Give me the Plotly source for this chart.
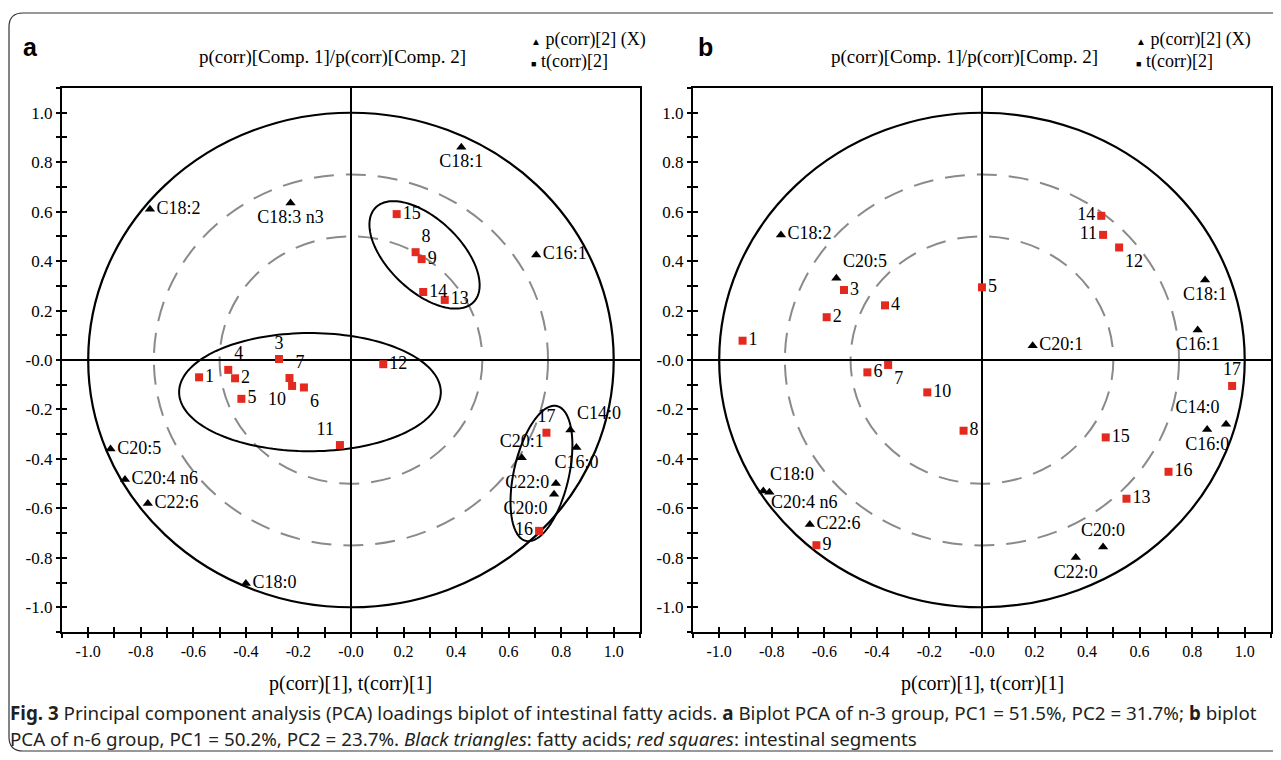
import numpy as np
import plotly.graph_objects as go

# The page body has an 8px margin, so the figure is 16px smaller than the window
OFF = 8
W, H = 1281 - 2 * OFF, 760 - 2 * OFF

# ---------------- data ----------------
tick_vals = [-1.0, -0.8, -0.6, -0.4, -0.2, 0.0, 0.2, 0.4, 0.6, 0.8, 1.0]
tick_text = ["-1.0", "-0.8", "-0.6", "-0.4", "-0.2", "-0.0", "0.2", "0.4", "0.6", "0.8", "1.0"]

# Panel a: fatty acids (black triangles)
a_fa_names = ["C18:1", "C18:2", "C18:3 n3", "C16:1", "C20:5", "C20:4 n6", "C22:6", "C18:0",
              "C14:0", "C16:0", "C20:1", "C22:0", "C20:0"]
a_fa_x = [0.42, -0.765, -0.23, 0.705, -0.915, -0.86, -0.773, -0.40, 0.835, 0.858, 0.65, 0.78, 0.773]
a_fa_y = [0.86, 0.61, 0.635, 0.425, -0.36, -0.483, -0.58, -0.904, -0.283, -0.354, -0.395, -0.499, -0.543]
a_fa_pos = ["bottom center", "middle right", "bottom center", "middle right", "middle right",
            "middle right", "middle right", "middle right", "top right", "bottom center",
            "top center", "middle left", "bottom left"]

# Panel a: intestinal segments (red squares)
a_seg_names = [str(i) for i in range(1, 18)]
a_seg_x = [-0.578, -0.441, -0.274, -0.467, -0.417, -0.179, -0.234, 0.246, 0.269, -0.224,
           -0.042, 0.123, 0.357, 0.275, 0.174, 0.716, 0.744]
a_seg_y = [-0.070, -0.074, 0.004, -0.040, -0.157, -0.111, -0.073, 0.436, 0.408, -0.105,
           -0.344, -0.017, 0.243, 0.275, 0.590, -0.691, -0.294]
a_seg_pos = ["middle right", "middle right", "top center", "top right", "middle right",
             "bottom right", "top right", "top right", "middle right", "bottom left",
             "top left", "middle right", "middle right", "middle right", "middle right",
             "middle left", "top center"]

# Panel b: fatty acids  ("custom" = label drawn as an annotation just below-right)
b_fa_names = ["C18:2", "C20:5", "C20:1", "C18:1", "C16:1", "C14:0", "C16:0", "C18:0",
              "C20:4 n6", "C22:6", "C20:0", "C22:0"]
b_fa_x = [-0.765, -0.554, 0.193, 0.849, 0.821, 0.929, 0.857, -0.832, -0.809, -0.655, 0.461, 0.357]
b_fa_y = [0.506, 0.331, 0.058, 0.324, 0.121, -0.260, -0.281, -0.530, -0.535, -0.665, -0.756, -0.799]
b_fa_pos = ["middle right", "top right", "middle right", "bottom center", "bottom center",
            "top left", "bottom center", "top right", "custom", "middle right",
            "top center", "bottom center"]

# Panel b: intestinal segments
b_seg_names = [str(i) for i in range(1, 18)]
b_seg_x = [-0.911, -0.591, -0.525, -0.369, 0.000, -0.436, -0.357, -0.070, -0.630, -0.208,
           0.461, 0.522, 0.550, 0.454, 0.471, 0.710, 0.952]
b_seg_y = [0.078, 0.173, 0.283, 0.221, 0.294, -0.050, -0.020, -0.286, -0.749, -0.131,
           0.506, 0.455, -0.561, 0.583, -0.313, -0.452, -0.105]
b_seg_pos = ["middle right", "middle right", "middle right", "middle right", "middle right",
             "middle right", "bottom right", "middle right", "middle right", "middle right",
             "middle left", "bottom right", "middle right", "middle left", "middle right",
             "middle right", "top center"]

# grouping ellipses in panel a: centre x, centre y, semi-axis a, semi-axis b, angle (deg)
a_ellipses = [
    (-0.156, -0.130, 0.498, 0.239, 0.0),
    (0.280, 0.425, 0.267, 0.141, -46.8),
    (0.725, -0.459, 0.279, 0.105, 78.1),
]
circle_radii_dashed = [0.5, 0.75]
circle_radius_solid = 1.0

# ---------------- layout helpers (reference pixel -> paper) ----------------
def px_x(p):
    return (p - OFF) / W

def px_y(p):
    return 1 - (p - OFF) / H

dom_a_x = [px_x(62), px_x(641)]
dom_b_x = [px_x(694), px_x(1273)]
dom_y = [px_y(632), px_y(88)]

SERIF = "Liberation Serif"
SANS = "Liberation Sans"
CAP = "Noto Sans"
RED = "#e42a1e"
LABEL_SIZE = 18

fig = go.Figure()

def add_panel(xref, yref, fa_x, fa_y, fa_names, fa_pos, seg_x, seg_y, seg_names, seg_pos):
    fa_text = ["" if p == "custom" else n for n, p in zip(fa_names, fa_pos)]
    fa_tpos = ["middle right" if p == "custom" else p for p in fa_pos]
    fig.add_trace(go.Scatter(
        x=fa_x, y=fa_y, mode="markers+text", text=fa_text, textposition=fa_tpos,
        marker=dict(symbol="triangle-up", size=9, color="black"),
        textfont=dict(family=SERIF, size=LABEL_SIZE, color="black"),
        xaxis=xref, yaxis=yref, showlegend=False, cliponaxis=False, hoverinfo="skip"))
    for n, p, x, y in zip(fa_names, fa_pos, fa_x, fa_y):
        if p == "custom":
            fig.add_annotation(x=x, y=y, xref=xref, yref=yref, text=n, showarrow=False,
                               xanchor="left", yanchor="middle", xshift=0, yshift=-10,
                               font=dict(family=SERIF, size=LABEL_SIZE, color="black"))
    fig.add_trace(go.Scatter(
        x=seg_x, y=seg_y, mode="markers+text", text=seg_names, textposition=seg_pos,
        marker=dict(symbol="square", size=8, color=RED),
        textfont=dict(family=SERIF, size=LABEL_SIZE, color="black"),
        xaxis=xref, yaxis=yref, showlegend=False, cliponaxis=False, hoverinfo="skip"))

add_panel("x", "y", a_fa_x, a_fa_y, a_fa_names, a_fa_pos, a_seg_x, a_seg_y, a_seg_names, a_seg_pos)
add_panel("x2", "y2", b_fa_x, b_fa_y, b_fa_names, b_fa_pos, b_seg_x, b_seg_y, b_seg_names, b_seg_pos)

def main_axis(size):
    return dict(
        range=[-1.1, 1.1], tickvals=tick_vals, ticktext=tick_text,
        ticks="outside", ticklen=4, tickwidth=2, tickcolor="black",
        minor=dict(dtick=0.1, tick0=0, ticks="outside", ticklen=4, tickwidth=2, tickcolor="black"),
        showgrid=False, zeroline=True, zerolinecolor="black", zerolinewidth=2,
        showline=True, linecolor="black", linewidth=2, mirror=True,
        tickfont=dict(family=SERIF, size=size, color="black"),
        fixedrange=True,
    )

def inner_ticks(overlay, anchor, side):
    return dict(overlaying=overlay, anchor=anchor, side=side, range=[-1.1, 1.1], tickvals=tick_vals,
                showticklabels=False, ticks="inside", ticklen=5, tickwidth=2, tickcolor="black",
                minor=dict(dtick=0.1, tick0=0, ticks="inside", ticklen=5, tickwidth=2, tickcolor="black"),
                showgrid=False, zeroline=False, showline=False, fixedrange=True)

fig.update_layout(
    width=W, height=H, autosize=False,
    margin=dict(l=0, r=0, t=0, b=0),
    paper_bgcolor="white", plot_bgcolor="white",
    xaxis=dict(domain=dom_a_x, anchor="y", **main_axis(16)),
    yaxis=dict(domain=dom_y, anchor="x", **main_axis(17)),
    xaxis2=dict(domain=dom_b_x, anchor="y2", **main_axis(16)),
    yaxis2=dict(domain=dom_y, anchor="x2", **main_axis(17)),
    xaxis3=inner_ticks("x", "y", "bottom"),
    yaxis3=inner_ticks("y", "x", "left"),
    xaxis4=inner_ticks("x2", "y2", "bottom"),
    yaxis4=inner_ticks("y2", "x2", "left"),
)
# invisible traces so the overlay (inner tick) axes are drawn
fig.add_trace(go.Scatter(x=[0], y=[0], xaxis="x3", yaxis="y3", mode="markers",
                         marker=dict(opacity=0), showlegend=False, hoverinfo="skip"))
fig.add_trace(go.Scatter(x=[0], y=[0], xaxis="x4", yaxis="y4", mode="markers",
                         marker=dict(opacity=0), showlegend=False, hoverinfo="skip"))

# circles
for xr, yr in [("x", "y"), ("x2", "y2")]:
    for r in circle_radii_dashed:
        fig.add_shape(type="circle", xref=xr, yref=yr, x0=-r, y0=-r, x1=r, y1=r,
                      line=dict(color="#8a8a8a", width=2, dash="20px,12px"), layer="below")
    r = circle_radius_solid
    fig.add_shape(type="circle", xref=xr, yref=yr, x0=-r, y0=-r, x1=r, y1=r,
                  line=dict(color="black", width=2.2), layer="below")

# ellipses (panel a)
def ellipse_path(cx, cy, a, b, ang, n=160):
    t = np.linspace(0, 2 * np.pi, n)
    th = np.deg2rad(ang)
    xs = cx + a * np.cos(t) * np.cos(th) - b * np.sin(t) * np.sin(th)
    ys = cy + a * np.cos(t) * np.sin(th) + b * np.sin(t) * np.cos(th)
    return "M " + " L ".join(f"{x:.4f},{y:.4f}" for x, y in zip(xs, ys)) + " Z"

for (cx, cy, a, b, ang) in a_ellipses:
    fig.add_shape(type="path", xref="x", yref="y", path=ellipse_path(cx, cy, a, b, ang),
                  line=dict(color="black", width=2), layer="below")

# outer rounded frame
def rounded_rect(x0, y0, x1, y1, r):
    return (f"M {px_x(x0 + r)},{px_y(y0)} L {px_x(x1 - r)},{px_y(y0)} "
            f"Q {px_x(x1)},{px_y(y0)} {px_x(x1)},{px_y(y0 + r)} L {px_x(x1)},{px_y(y1 - r)} "
            f"Q {px_x(x1)},{px_y(y1)} {px_x(x1 - r)},{px_y(y1)} L {px_x(x0 + r)},{px_y(y1)} "
            f"Q {px_x(x0)},{px_y(y1)} {px_x(x0)},{px_y(y1 - r)} L {px_x(x0)},{px_y(y0 + r)} "
            f"Q {px_x(x0)},{px_y(y0)} {px_x(x0 + r)},{px_y(y0)} Z")

fig.add_shape(type="path", xref="paper", yref="paper", path=rounded_rect(9, 13, 1300, 751, 14),
              line=dict(color="#333333", width=1.2), layer="below")

# texts
def ann(x, y, text, size, family=SERIF, xanchor="center", color="black"):
    fig.add_annotation(x=px_x(x), y=px_y(y), xref="paper", yref="paper", text=text,
                       showarrow=False, xanchor=xanchor, yanchor="middle",
                       font=dict(family=family, size=size, color=color))

for cx, lx in [(333, 530), (966, 1136)]:
    ann(cx, 57, "p(corr)[Comp. 1]/p(corr)[Comp. 2]", 19)
    ann(lx, 40, '<span style="font-size:10px">▲</span> p(corr)[2] (X)', 18, xanchor="left")
    ann(lx, 61, '<span style="font-size:9px">■</span> t(corr)[2]', 18, xanchor="left")

ann(31, 47, "<b>a</b>", 25, family=SANS)
ann(707, 47, "<b>b</b>", 25, family=SANS)

ann(351, 683, "p(corr)[1], t(corr)[1]", 20)
ann(984, 683, "p(corr)[1], t(corr)[1]", 20)

ann(8, 713, "<b>Fig. 3</b> Principal component analysis (PCA) loadings biplot of intestinal fatty acids. "
            "<b>a</b> Biplot PCA of n-3 group, PC1 = 51.5%, PC2 = 31.7%; <b>b</b> biplot",
    18.8, family=CAP, xanchor="left", color="#231f20")
ann(8, 739, "PCA of n-6 group, PC1 = 50.2%, PC2 = 23.7%. <i>Black triangles</i>: fatty acids; "
            "<i>red squares</i>: intestinal segments",
    18.8, family=CAP, xanchor="left", color="#231f20")

fig.write_html("out.html")
